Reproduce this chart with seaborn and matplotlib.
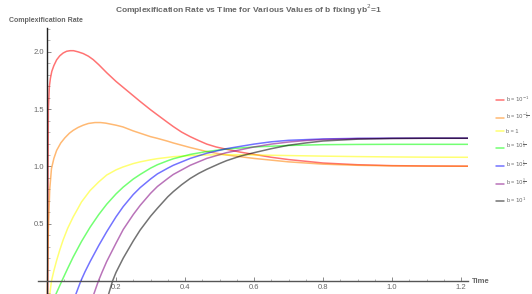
import numpy as np
import pandas as pd
import matplotlib
matplotlib.use("Agg")
import matplotlib.pyplot as plt
import seaborn as sns
from matplotlib.ticker import MultipleLocator

# ---- data ----
labels = [r"b = $10^{-1}$", r"b = $10^{-\frac{1}{2}}$", "b = 1",
          r"b = $10^{\frac{1}{4}}$", r"b = $10^{\frac{1}{2}}$",
          r"b = $10^{\frac{3}{4}}$", r"b = $10^{1}$"]
colors = ["#ff0000", "#ff8000", "#ffff00", "#00ff00", "#0000ff", "#800080", "#000000"]

t_red = [0.002, 0.003, 0.004, 0.007, 0.01, 0.014, 0.02, 0.028, 0.037, 0.047, 0.057, 0.067, 0.077,
         0.09, 0.105, 0.12, 0.134, 0.15, 0.173, 0.2, 0.22, 0.25, 0.27, 0.3, 0.32, 0.35, 0.366,
         0.39, 0.415, 0.44, 0.463, 0.49, 0.52, 0.56, 0.6, 0.65, 0.7, 0.75, 0.8, 0.9, 1.0, 1.1, 1.22]
y_red = [-0.12, 0.8, 1.5, 1.7, 1.77, 1.83, 1.88, 1.93, 1.965, 1.99, 2.005, 2.01, 2.01,
         2.0, 1.985, 1.962, 1.932, 1.888, 1.818, 1.742, 1.692, 1.617, 1.567, 1.495, 1.45, 1.383, 1.348,
         1.3, 1.26, 1.225, 1.195, 1.17, 1.15, 1.125, 1.105, 1.08, 1.06, 1.045, 1.03, 1.015, 1.007, 1.004, 1.002]

t_orange = [0.001, 0.004, 0.008, 0.013, 0.02, 0.028, 0.04, 0.052, 0.065, 0.076, 0.09, 0.105, 0.12,
            0.139, 0.155, 0.17, 0.2, 0.22, 0.25, 0.27, 0.3, 0.32, 0.35, 0.366, 0.415, 0.463, 0.52,
            0.56, 0.6, 0.65, 0.7, 0.75, 0.8, 0.9, 1.0, 1.1, 1.22]
y_orange = [-0.12, 0.45, 0.8, 0.98, 1.07, 1.14, 1.205, 1.25, 1.29, 1.315, 1.34, 1.36, 1.375,
            1.383, 1.383, 1.378, 1.36, 1.345, 1.31, 1.29, 1.26, 1.245, 1.22, 1.205, 1.165, 1.13, 1.1,
            1.085, 1.07, 1.055, 1.04, 1.03, 1.02, 1.01, 1.005, 1.003, 1.002]

t_yellow = [0.008, 0.013, 0.02, 0.028, 0.037, 0.047, 0.06, 0.076, 0.09, 0.1, 0.125, 0.15, 0.173,
            0.2, 0.22, 0.25, 0.27, 0.3, 0.32, 0.366, 0.415, 0.463, 0.52, 0.6, 0.7, 0.8, 0.9,
            1.0, 1.1, 1.22]
y_yellow = [-0.12, 0.0, 0.09, 0.18, 0.27, 0.36, 0.46, 0.56, 0.635, 0.69, 0.79, 0.865, 0.925,
            0.97, 0.995, 1.025, 1.04, 1.058, 1.068, 1.085, 1.095, 1.1, 1.103, 1.1, 1.095, 1.09, 1.086,
            1.083, 1.081, 1.08]

t_green = [0.025, 0.043, 0.06, 0.076, 0.1, 0.125, 0.15, 0.173, 0.2, 0.221, 0.25, 0.27, 0.3,
           0.32, 0.35, 0.366, 0.415, 0.463, 0.52, 0.6, 0.7, 0.8, 0.9, 1.0, 1.1, 1.22]
y_green = [-0.12, 0.0, 0.11, 0.21, 0.345, 0.47, 0.58, 0.67, 0.76, 0.82, 0.89, 0.93, 0.985,
           1.015, 1.05, 1.067, 1.105, 1.13, 1.152, 1.17, 1.183, 1.19, 1.192, 1.193, 1.193, 1.193]

t_blue = [0.083, 0.098, 0.11, 0.125, 0.15, 0.173, 0.2, 0.221, 0.25, 0.27, 0.3, 0.32, 0.35,
          0.366, 0.415, 0.463, 0.52, 0.56, 0.6, 0.65, 0.7, 0.8, 0.9, 1.0, 1.1, 1.22]
y_blue = [-0.12, 0.0, 0.08, 0.17, 0.31, 0.43, 0.56, 0.65, 0.755, 0.815, 0.89, 0.935, 0.985,
          1.01, 1.07, 1.115, 1.155, 1.175, 1.195, 1.215, 1.228, 1.24, 1.245, 1.246, 1.246, 1.246]

t_purple = [0.135, 0.149, 0.16, 0.173, 0.2, 0.221, 0.25, 0.27, 0.3, 0.32, 0.35, 0.366, 0.415,
            0.463, 0.52, 0.56, 0.6, 0.65, 0.7, 0.75, 0.8, 0.9, 1.0, 1.1, 1.22]
y_purple = [-0.12, 0.0, 0.08, 0.17, 0.33, 0.45, 0.58, 0.66, 0.765, 0.825, 0.895, 0.93, 1.01,
            1.07, 1.12, 1.145, 1.17, 1.195, 1.213, 1.226, 1.235, 1.243, 1.245, 1.246, 1.246]

t_black = [0.178, 0.19, 0.2, 0.221, 0.25, 0.27, 0.3, 0.32, 0.35, 0.366, 0.39, 0.415, 0.44,
           0.463, 0.5, 0.52, 0.56, 0.6, 0.65, 0.7, 0.75, 0.8, 0.9, 1.0, 1.1, 1.22]
y_black = [-0.12, 0.0, 0.075, 0.2, 0.35, 0.445, 0.565, 0.635, 0.735, 0.78, 0.84, 0.895, 0.94,
           0.975, 1.025, 1.05, 1.09, 1.12, 1.155, 1.185, 1.205, 1.222, 1.238, 1.244, 1.246, 1.246]

series_t = [t_red, t_orange, t_yellow, t_green, t_blue, t_purple, t_black]
series_y = [y_red, y_orange, y_yellow, y_green, y_blue, y_purple, y_black]

frames = []
for lab, tt, yy in zip(labels, series_t, series_y):
    frames.append(pd.DataFrame({"Time": tt, "Rate": yy, "b": lab}))
df = pd.concat(frames, ignore_index=True)

# ---- plot ----
sns.set_style("white")
plt.rcParams["font.family"] = ["Liberation Sans", "DejaVu Sans"]
plt.rcParams["mathtext.fontset"] = "dejavusans"

fig = plt.figure(figsize=(5.32, 2.94), dpi=100)
ax = fig.add_axes([38 / 532, 0.0, (468 - 38) / 532, 1 - 28 / 294])

sns.lineplot(data=df, x="Time", y="Rate", hue="b", palette=colors, hue_order=labels,
             estimator=None, sort=False, linewidth=1.1, alpha=0.55, ax=ax)

ax.set_xlim(-0.026, 1.22)
ax.set_ylim(-0.113, 2.208)

ax.spines["top"].set_visible(False)
ax.spines["right"].set_visible(False)
ax.spines["left"].set_position(("data", 0))
ax.spines["bottom"].set_position(("data", 0))
ax.spines["left"].set_color("#222222")
ax.spines["left"].set_linewidth(1.0)
ax.spines["bottom"].set_color("#555555")
ax.spines["bottom"].set_linewidth(1.0)

ax.set_xticks([0.2, 0.4, 0.6, 0.8, 1.0, 1.2])
ax.set_yticks([0.5, 1.0, 1.5, 2.0])
ax.xaxis.set_minor_locator(MultipleLocator(0.05))
ax.yaxis.set_minor_locator(MultipleLocator(0.1))
ax.tick_params(axis="both", which="major", direction="in", length=3, width=0.6,
               color="#777777", labelsize=5.5, labelcolor="#666666", pad=2)
ax.tick_params(axis="both", which="minor", direction="in", length=1.8, width=0.5,
               color="#999999")
ax.tick_params(axis="x", which="both", bottom=True)
ax.tick_params(axis="y", which="both", left=True)
ax.set_xlabel("")
ax.set_ylabel("")

ax.text(1.232, 0.0, "Time", fontsize=5.5, fontweight="bold", color="#666666",
        va="center", ha="left", clip_on=False)
fig.text(9 / 532, 1 - 20 / 294, "Complexification Rate", fontsize=5, fontweight="bold",
         color="#666666", va="center", ha="left")
fig.text(249 / 532, 1 - 10 / 294,
         "Complexification Rate vs Time for Various Values of b fixing γb$^2$=1",
         fontsize=6, fontweight="bold", color="#666666", va="center", ha="center")

ax.legend(loc="center left", bbox_to_anchor=(493 / 532, 1 - 150 / 294),
          bbox_transform=fig.transFigure, frameon=False, fontsize=4,
          handlelength=1.4, handletextpad=0.5, labelspacing=1.15, borderpad=0)
for txt in ax.get_legend().get_texts():
    txt.set_color("#666666")

fig.savefig("out.png", dpi=100)
